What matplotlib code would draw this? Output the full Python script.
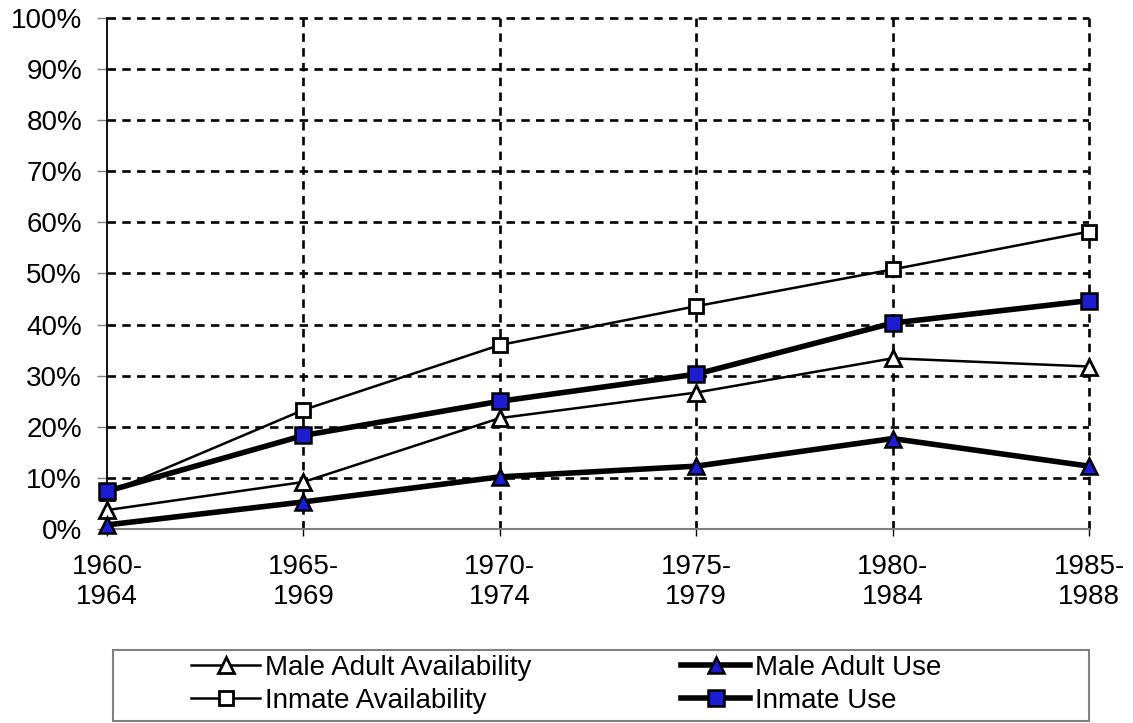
import matplotlib.pyplot as plt
from matplotlib.patches import Rectangle

plt.rcParams['font.family'] = ['Liberation Sans', 'DejaVu Sans']

periods = ["1960-\n1964", "1965-\n1969", "1970-\n1974", "1975-\n1979", "1980-\n1984", "1985-\n1988"]
male_adult_availability = [3.7, 9.2, 21.7, 26.7, 33.4, 31.8]
male_adult_use = [0.8, 5.3, 10.2, 12.3, 17.7, 12.3]
inmate_availability = [7.0, 23.3, 36.0, 43.6, 50.8, 58.2]
inmate_use = [7.4, 18.3, 25.0, 30.3, 40.3, 44.7]

blue = "#1c1cd0"
W, H = 1133, 723
x = range(len(periods))

fig = plt.figure(figsize=(W / 100, H / 100), dpi=100)
ax = fig.add_axes([107 / W, 1 - 529 / H, (1089 - 107) / W, (529 - 18) / H])

maa, = ax.plot(x, male_adult_availability, color="black", lw=1.8, marker="^",
               ms=12, mfc="white", mec="black", mew=2, clip_on=False, zorder=3)
mau, = ax.plot(x, male_adult_use, color="black", lw=4, marker="^",
               ms=12, mfc=blue, mec="black", mew=1.8, clip_on=False, zorder=3)
ia, = ax.plot(x, inmate_availability, color="black", lw=1.8, marker="s",
              ms=10, mfc="white", mec="black", mew=2, clip_on=False, zorder=3)
iu, = ax.plot(x, inmate_use, color="black", lw=4, marker="s",
              ms=11, mfc=blue, mec="black", mew=1.8, clip_on=False, zorder=4)

ax.set_xlim(0, len(periods) - 1)
ax.set_ylim(0, 100)
ax.set_yticks(range(0, 101, 10))
ax.set_yticklabels([f"{v}%" for v in range(0, 101, 10)], fontsize=20)
ax.set_xticks(list(x))
ax.set_xticklabels(periods, fontsize=20, linespacing=1.2)

ax.grid(True, color="black", linestyle=(0, (3.2, 2.4)), linewidth=1.9)
ax.set_axisbelow(True)
# no dashed line over the solid left axis / bottom axis
ax.xaxis.get_major_ticks()[0].gridline.set_visible(False)
ax.yaxis.get_major_ticks()[0].gridline.set_visible(False)
# keep the edge grid lines at full width
ax.xaxis.get_major_ticks()[-1].gridline.set_clip_on(False)
ax.yaxis.get_major_ticks()[-1].gridline.set_clip_on(False)
for side in ["top", "right"]:
    ax.spines[side].set_visible(False)
ax.spines["left"].set_color("black")
ax.spines["left"].set_linewidth(1.3)
ax.spines["bottom"].set_color("#808080")
ax.spines["bottom"].set_linewidth(1.5)
ax.tick_params(axis="y", direction="out", length=7, width=1, color="#808080", pad=11)
ax.tick_params(axis="x", direction="inout", length=10, width=1, color="black", pad=13)

# legend frame
fig.patches.append(Rectangle((113 / W, 1 - 721 / H), (1089 - 113) / W, (721 - 650) / H,
                             transform=fig.transFigure, fill=False,
                             edgecolor="#808080", linewidth=1.5))
fig.legend([maa, ia, mau, iu],
           ["Male Adult Availability", "Inmate Availability", "Male Adult Use", "Inmate Use"],
           ncol=2, loc="upper left", bbox_to_anchor=(191 / W, 1 - 655 / H),
           fontsize=20, frameon=False, handlelength=2.5, handletextpad=0.15,
           borderpad=0, borderaxespad=0, labelspacing=0.25, columnspacing=5.4)

fig.savefig("out.png", dpi=100)
